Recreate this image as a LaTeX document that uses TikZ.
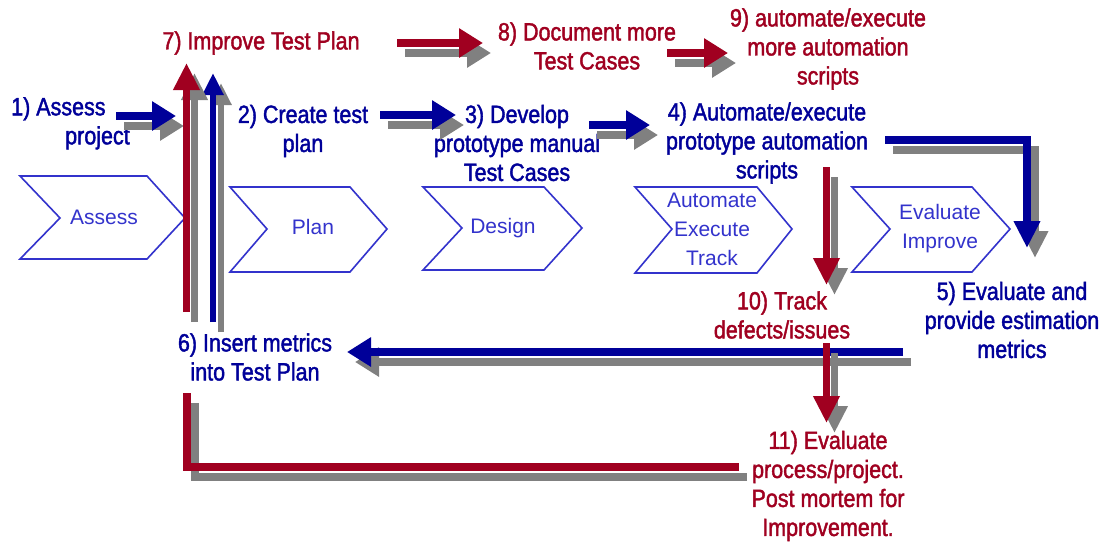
\documentclass[tikz,border=0pt]{standalone}
\usepackage{fontspec}
\setmainfont{Liberation Sans}
\newfontfamily\lblfont[FakeStretch=0.86,FakeBold=1.6]{Liberation Sans}
\usetikzlibrary{arrows.meta,calc}
\definecolor{cred}{HTML}{A00020}
\definecolor{cblue}{HTML}{000099}
\definecolor{cgray}{HTML}{808080}
\definecolor{cchev}{HTML}{3333CC}
\newcommand\shdraw[2]{%
  \draw[#1,color=cgray,transform canvas={shift={(8pt,-10pt)}}] #2;
  \draw[#1] #2;}
\begin{document}
\begin{tikzpicture}[x=1pt,y=-1pt,
  lbl/.style={font=\lblfont\fontsize{25}{29}\selectfont, align=center, inner sep=0pt},
  redlbl/.style={lbl,text=cred},
  bluelbl/.style={lbl,text=cblue},
  chevline/.style={draw=cchev,line width=1.6pt,line join=miter},
  chevtext/.style={font=\fontsize{21}{29}\selectfont,text=cchev,align=center,inner sep=0pt},
  redbar/.style={color=cred,line width=8pt},
  bluebar/.style={color=cblue,line width=8pt},
  headh/.style={-{Triangle[length=24pt,width=28pt]}},
  headv/.style={-{Triangle[length=27pt,width=25pt]}},
  heads/.style={-{Triangle[length=22pt,width=20pt]}}]
\fill[white] (0,0) rectangle (1104,542);
\useasboundingbox (0,0) rectangle (1104,542);

% chevrons
\draw[chevline] (20,176) -- (147,176) -- (185,218) -- (147,259) -- (20,259) -- (60,218) -- cycle;
\draw[chevline] (230,187) -- (350,187) -- (387,229) -- (350,272) -- (230,272) -- (267,229) -- cycle;
\draw[chevline] (423,187) -- (544,187) -- (582,228) -- (544,270) -- (423,270) -- (462,228) -- cycle;
\draw[chevline] (635,187) -- (757,187) -- (792,229) -- (757,273) -- (635,273) -- (672,229) -- cycle;
\draw[chevline] (852,187) -- (972,187) -- (1010,229) -- (972,272) -- (852,272) -- (890,229) -- cycle;
\node[chevtext] (assess) at (104,217) {Assess};
\node[chevtext] (plan) at (313,227) {Plan};
\node[chevtext] (design) at (503,228) {Design};
\node[chevtext] (aet) at (712,229) {Automate\\Execute\\Track};
\node[chevtext] (ei) at (940,229) {Evaluate\\Improve};

% labels
\node[redlbl] (l7) at (261,43) {7) Improve Test Plan};
\node[redlbl] (l8) at (587,46) {8) Document more\\Test Cases};
\node[redlbl] (l9) at (828,49) {9) automate/execute\\more automation\\scripts};
\node[bluelbl, align=left, anchor=north west] (l1) at (11,97) {1) Assess\\\hspace*{54pt}project};
\node[bluelbl] (l2) at (303,131) {2) Create test\\plan};
\node[bluelbl] (l3) at (517,143) {3) Develop\\prototype manual\\Test Cases};
\node[bluelbl] (l4) at (767,143) {4) Automate/execute\\prototype automation\\scripts};
\node[bluelbl] (l5) at (1012,320) {5) Evaluate and\\provide estimation\\metrics};
\node[bluelbl] (l6) at (255,357) {6) Insert metrics\\into Test Plan};
\node[redlbl] (l10) at (782,315) {10) Track\\defects/issues};
\node[redlbl] (l11) at (828,486) {11) Evaluate\\process/project.\\Post mortem for\\Improvement.};

% connector end points
\coordinate (a1s) at (116,116); \coordinate (a1e) at (176,116);
\coordinate (a2s) at (380,115); \coordinate (a2e) at (456,115);
\coordinate (a3s) at (589,125); \coordinate (a3e) at (650,125);
\coordinate (a4s) at (885,140); \coordinate (a4c) at (1027,140); \coordinate (a4e) at (1027,248);
\coordinate (a5s) at (903,352); \coordinate (a5e) at (347,352);
\coordinate (a6s) at (213,322); \coordinate (a6e) at (213,73);
\coordinate (a7s) at (186.5,312); \coordinate (a7e) at (186.5,63);
\coordinate (a8s) at (397,43); \coordinate (a8e) at (483,43);
\coordinate (a9s) at (667,53); \coordinate (a9e) at (728,53);
\coordinate (a10s) at (826.5,167); \coordinate (a10e) at (826.5,285);
\coordinate (a11s) at (826.5,343); \coordinate (a11e) at (826.5,423);
\coordinate (a12s) at (739,467); \coordinate (a12c) at (186.5,467); \coordinate (a12e) at (186.5,393);

% connectors
\shdraw{redbar}{(a12s) -- (a12c) -- (a12e)}
\shdraw{bluebar,headh}{(a1s) -- (a1e)}
\shdraw{bluebar,headh}{(a2s) -- (a2e)}
\shdraw{bluebar,headh}{(a3s) -- (a3e)}
\shdraw{bluebar,headv}{(a4s) -- (a4c) -- (a4e)}
\shdraw{bluebar,headh}{(a5s) -- (a5e)}
\shdraw{bluebar,line width=6pt,heads}{(a6s) -- (a6e)}
\shdraw{redbar,line width=7pt,headv}{(a7s) -- (a7e)}
\shdraw{redbar,headh}{(a8s) -- (a8e)}
\shdraw{redbar,headh}{(a9s) -- (a9e)}
\shdraw{redbar,line width=7pt,headv}{(a10s) -- (a10e)}
\shdraw{redbar,line width=7pt,headv}{(a11s) -- (a11e)}
\end{tikzpicture}
\end{document}
